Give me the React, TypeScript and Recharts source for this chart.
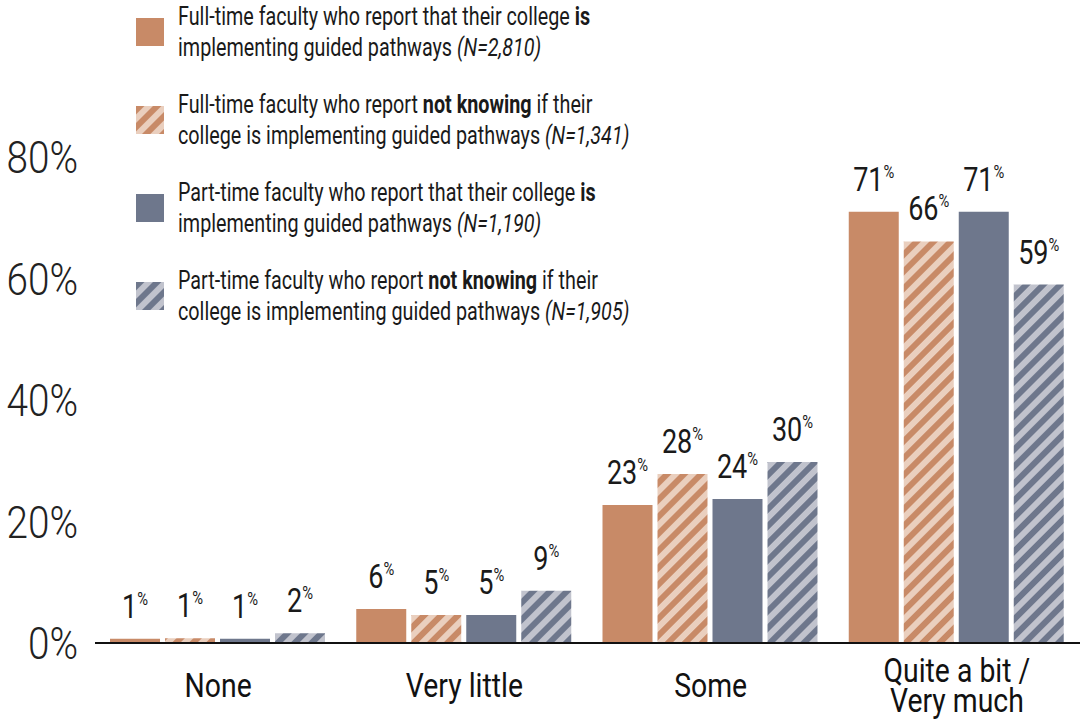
import React from "react";
import { BarChart, Bar, XAxis, YAxis, LabelList, Legend } from "recharts";

const categories = ["None", "Very little", "Some", "Quite a bit / Very much"];
const ftImplementing = [0.7, 5.6, 22.7, 71.0];
const ftNotKnowing = [0.8, 4.6, 27.8, 66.1];
const ptImplementing = [0.7, 4.6, 23.7, 71.0];
const ptNotKnowing = [1.6, 8.6, 29.8, 59.0];
const yTicks = [0, 20, 40, 60, 80];

// legend text, per line: [plain, bold, plain/italic tail]
const legendLines = [
  [["Full-time faculty who report that their college ", "is"], ["implementing guided pathways ", "", "(N=2,810)"]],
  [["Full-time faculty who report ", "not knowing", " if their"], ["college is implementing guided pathways ", "", "(N=1,341)"]],
  [["Part-time faculty who report that their college ", "is"], ["implementing guided pathways ", "", "(N=1,190)"]],
  [["Part-time faculty who report ", "not knowing", " if their"], ["college is implementing guided pathways ", "", "(N=1,905)"]],
];

const ORANGE = "#C88A67";
const ORANGE_LIGHT = "#EACFBE";
const SLATE = "#6E778C";
const SLATE_LIGHT = "#C1C3CD";
const FONT = "Roboto, 'Liberation Sans', sans-serif";
const SQUEEZE = 0.82; // the original uses a condensed face

const data = categories.map((name, i) => ({
  name,
  ftImp: ftImplementing[i],
  ftNot: ftNotKnowing[i],
  ptImp: ptImplementing[i],
  ptNot: ptNotKnowing[i],
}));

const series = [
  { key: "ftImp", fill: ORANGE },
  { key: "ftNot", fill: "url(#stripeOrange)" },
  { key: "ptImp", fill: SLATE },
  { key: "ptNot", fill: "url(#stripeSlate)" },
];

function PctLabel(props: any) {
  const { x, y, width, value } = props;
  return (
    <g transform={`translate(${x + width / 2} ${y - 21}) scale(${SQUEEZE} 1)`}>
      <text x={0} y={0} textAnchor="middle" fontFamily={FONT} fill="#1a1a1a">
        <tspan fontSize={33}>{Math.round(value)}</tspan>
        <tspan fontSize={18} dy={-13}>%</tspan>
      </text>
    </g>
  );
}

function YTick(props: any) {
  const { x, y, payload } = props;
  return (
    <g transform={`translate(${x} ${y + 16}) scale(0.86 1)`}>
      <text x={0} y={0} textAnchor="end" fontFamily={FONT} fontWeight={300} fontSize={45} fill="#222">
        {payload.value}%
      </text>
    </g>
  );
}

function XTick(props: any) {
  const { x, y, payload } = props;
  const parts = String(payload.value).split(" / ");
  const lines = parts.length > 1 ? [parts[0] + " /", parts[1]] : parts;
  const first = lines.length > 1 ? 31 : 46;
  return (
    <g transform={`translate(${x} ${y + first}) scale(0.86 1)`}>
      <text x={0} y={0} textAnchor="middle" fontFamily={FONT} fontSize={33} fill="#111">
        {lines.map((l, i) => (
          <tspan key={i} x={0} dy={i === 0 ? 0 : 30}>
            {l}
          </tspan>
        ))}
      </text>
    </g>
  );
}

function Swatch({ index }: { index: number }) {
  const fills = [ORANGE, "url(#lgOrange)", SLATE, "url(#lgSlate)"];
  return (
    <svg width={28} height={28} style={{ flex: "none" }}>
      <defs>
        <pattern id={`lg${index === 1 ? "Orange" : "Slate"}`} width={12} height={12} patternUnits="userSpaceOnUse" patternTransform="rotate(45)">
          <rect width={12} height={12} fill={index === 1 ? ORANGE_LIGHT : SLATE_LIGHT} />
          <rect width={6} height={12} fill={index === 1 ? ORANGE : SLATE} />
        </pattern>
      </defs>
      <rect width={28} height={28} fill={fills[index]} />
    </svg>
  );
}

function LegendBox() {
  return (
    <div style={{ fontFamily: FONT, fontSize: 26, color: "#1a1a1a", lineHeight: "31px" }}>
      {legendLines.map((lines, i) => (
        <div key={i} style={{ display: "flex", alignItems: "center", marginBottom: 26 }}>
          <Swatch index={i} />
          <div style={{ marginLeft: 14, whiteSpace: "nowrap", transform: "scaleX(0.76)", transformOrigin: "left center" }}>
            {lines.map((seg, j) => (
              <div key={j}>
                {seg[0]}
                {seg[1] ? <b>{seg[1]}</b> : null}
                {seg[2] && j === 0 ? seg[2] : null}
                {seg[2] && j === 1 ? <i>{seg[2]}</i> : null}
              </div>
            ))}
          </div>
        </div>
      ))}
    </div>
  );
}

export default function App() {
  return (
    <div style={{ position: "absolute", top: 0, left: 0, width: 1080, height: 719, background: "#fff" }}>
      <BarChart
        width={1080}
        height={719}
        data={data}
        margin={{ top: 157, right: 0, left: 0, bottom: 0 }}
        barCategoryGap={15}
        barGap={5}
      >
        <defs>
          <pattern id="stripeOrange" width={12} height={12} patternUnits="userSpaceOnUse" patternTransform="rotate(45)">
            <rect width={12} height={12} fill={ORANGE_LIGHT} />
            <rect width={6} height={12} fill={ORANGE} />
          </pattern>
          <pattern id="stripeSlate" width={12} height={12} patternUnits="userSpaceOnUse" patternTransform="rotate(45)">
            <rect width={12} height={12} fill={SLATE_LIGHT} />
            <rect width={6} height={12} fill={SLATE} />
          </pattern>
        </defs>
        <XAxis
          dataKey="name"
          axisLine={{ stroke: "#111", strokeWidth: 2 }}
          tickLine={false}
          tick={<XTick />}
          interval={0}
          height={76}
        />
        <YAxis
          domain={[0, 80]}
          ticks={yTicks}
          axisLine={false}
          tickLine={false}
          tickSize={0}
          tickMargin={17}
          width={95}
          tick={<YTick />}
        />
        <Legend
          layout="vertical"
          align="center"
          verticalAlign="middle"
          wrapperStyle={{ top: 1, left: 136, width: 620 }}
          content={() => <LegendBox />}
        />
        {series.map((s) => (
          <Bar key={s.key} dataKey={s.key} fill={s.fill} isAnimationActive={false}>
            <LabelList dataKey={s.key} content={<PctLabel />} />
          </Bar>
        ))}
      </BarChart>
    </div>
  );
}
